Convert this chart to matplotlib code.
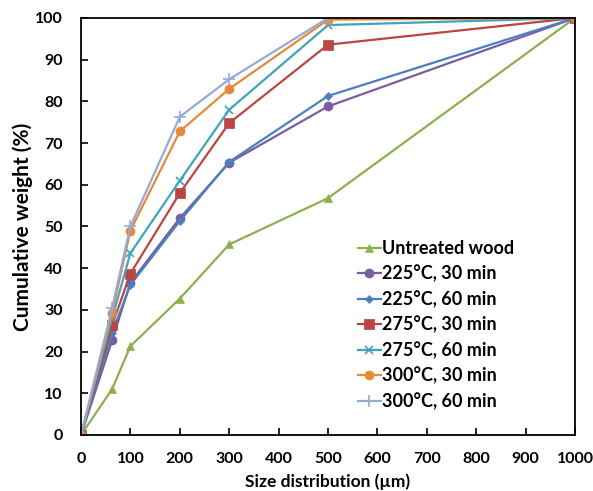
import matplotlib.pyplot as plt

plt.rcParams['font.family'] = ['Lato', 'DejaVu Sans']

sizes = [0, 63, 100, 200, 300, 500, 1000]
untreated = [0, 11.0, 21.3, 32.7, 45.7, 56.8, 100]
t225_30 = [0, 22.7, 36.5, 52.0, 65.3, 78.8, 100]
t225_60 = [0, 24.5, 36.0, 51.3, 65.5, 81.3, 100]
t275_30 = [0, 26.3, 38.7, 58.0, 74.8, 93.6, 100]
t275_60 = [0, 28.0, 43.6, 61.0, 78.0, 98.3, 100]
t300_30 = [0, 29.3, 49.0, 72.8, 83.0, 99.6, 100]
t300_60 = [0, 30.5, 50.0, 76.3, 85.3, 100, 100]

labels = ['Untreated wood', '225°C, 30 min', '225°C, 60 min', '275°C, 30 min',
          '275°C, 60 min', '300°C, 30 min', '300°C, 60 min']
series = [untreated, t225_30, t225_60, t275_30, t275_60, t300_30, t300_60]
colors = ['#8db04f', '#7a5ca2', '#4b7fbf', '#bb4542', '#3fa4bc', '#e6893b', '#94abd6']
markers = ['^', 'o', 'D', 's', 'x', 'o', '+']
msizes = [6, 6.5, 4.5, 6.5, 6, 6.5, 8]

W, H = 593, 491
fig = plt.figure(figsize=(W / 100, H / 100), dpi=100)
ax = fig.add_axes([81/W, 1 - 435/H, (575-81)/W, (435-18)/H])

for y, lab, c, m, ms in zip(series, labels, colors, markers, msizes):
    ax.plot(sizes, y, color=c, marker=m, markersize=ms, linewidth=1.6,
            markeredgewidth=1.2 if m in 'x+' else 0.5, markeredgecolor=c, label=lab)

ax.set_xlim(0, 1000)
ax.set_ylim(0, 100)
ax.set_xticks(range(0, 1001, 100))
ax.set_yticks(range(0, 101, 10))
ax.tick_params(direction='in', length=5, width=1.2, labelsize=11.5)
ax.tick_params(axis='y', pad=13)
ax.tick_params(axis='x', pad=12)
for lbl in ax.get_xticklabels() + ax.get_yticklabels():
    lbl.set_fontweight('bold')
for s in ax.spines.values():
    s.set_linewidth(1.3)
    s.set_color('black')

ax.set_xlabel('Size distribution (µm)', fontsize=12.5, fontweight='bold')
ax.set_ylabel('Cumulative weight (%)', fontsize=15, fontweight='bold')
ax.xaxis.set_label_coords(0.5, -0.093)
ax.yaxis.set_label_coords(-0.097, 0.5)

leg = ax.legend(loc='upper left', bbox_to_anchor=(358/W, 1 - 240/H),
                bbox_transform=fig.transFigure, frameon=False,
                fontsize=13, handlelength=1.25, handletextpad=0.1,
                labelspacing=0.44, borderpad=0, borderaxespad=0)
for t in leg.get_texts():
    t.set_fontweight('bold')

fig.savefig('out.png', dpi=100)
